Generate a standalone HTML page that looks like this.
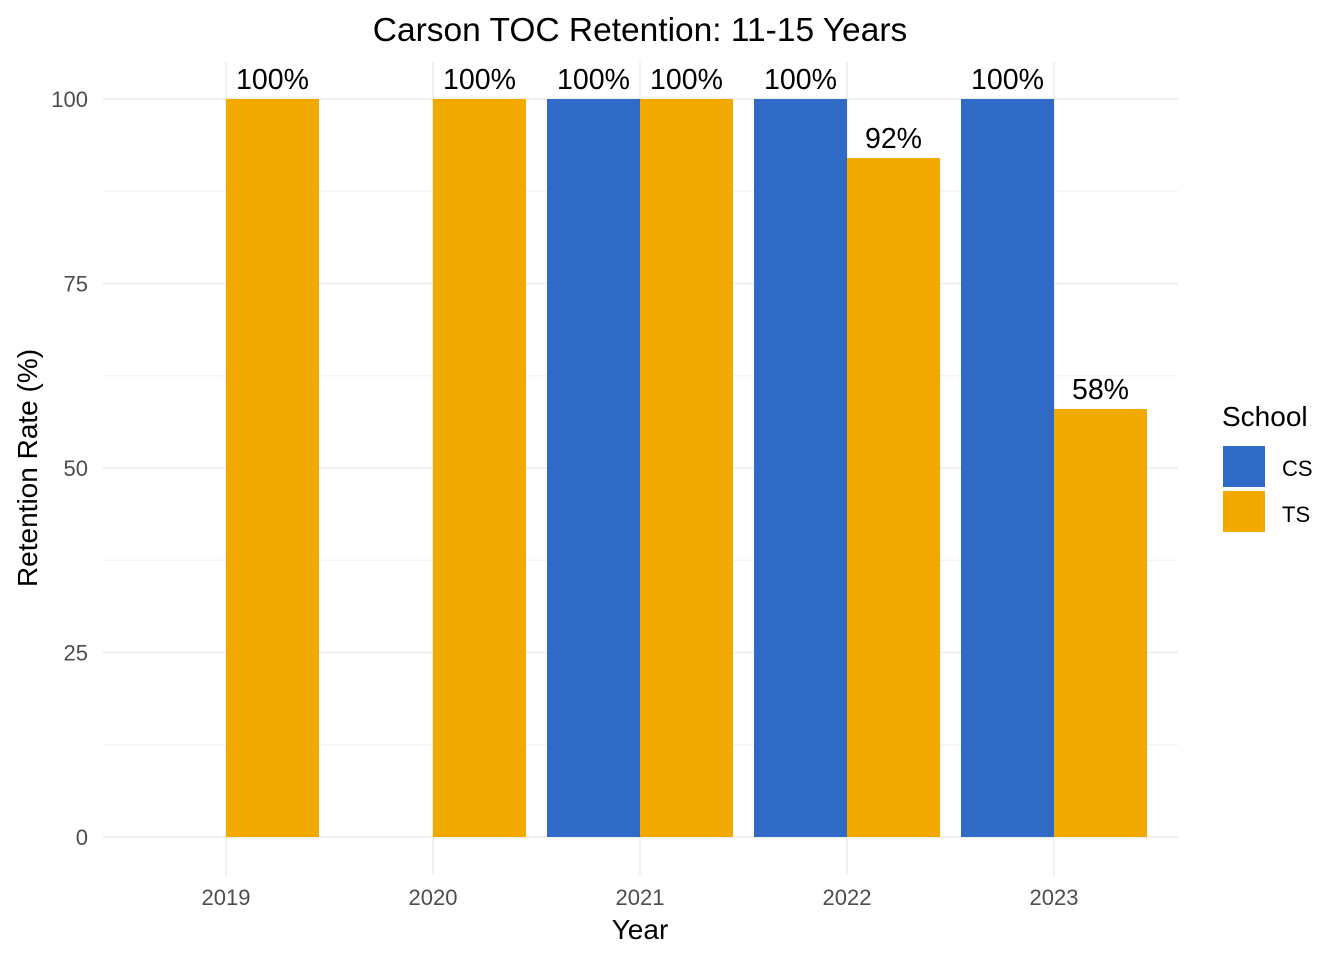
<!DOCTYPE html>
<html><head><meta charset="utf-8"><style>
html,body{margin:0;padding:0;background:#fff;}
svg{display:block;font-family:"Liberation Sans",Arial,sans-serif;}
</style></head><body>
<svg id="chart" width="1344" height="960" viewBox="0 0 1344 960">
<g id="grid"></g>
<g id="bars"></g>
<g id="labels"></g>
<g id="axes"></g>
<text x="640" y="41" text-anchor="middle" font-size="33.5" fill="#000">Carson TOC Retention: 11-15 Years</text>
<text x="640" y="939" text-anchor="middle" font-size="28" fill="#000">Year</text>
<text transform="translate(37,468) rotate(-90)" text-anchor="middle" font-size="28" fill="#000">Retention Rate (%)</text>
<g>
<text x="1222" y="426" font-size="28" fill="#000">School</text>
<rect x="1223" y="446" width="42" height="41" fill="#2E6AC6"/>
<text x="1282" y="476" font-size="22" fill="#000">CS</text>
<rect x="1223" y="491" width="42" height="41" fill="#F2AA00"/>
<text x="1282" y="522" font-size="22" fill="#000">TS</text>
</g>
</svg>
<script>
const years = ["2019","2020","2021","2022","2023"];
const csValues = [null, null, 100, 100, 100];
const tsValues = [100, 100, 100, 92, 58];
const yTicks = [0, 25, 50, 75, 100];

const NS = "http://www.w3.org/2000/svg";
const plotL = 103, plotR = 1178, plotT = 62, plotB = 875;
const x0 = 226, step = 207, barW = 93;
function xScale(i){ return x0 + i*step; }
function yScale(v){ return 837 - v*7.38; }
function mk(tag, attrs, parent){ const e=document.createElementNS(NS,tag); for(const k in attrs) e.setAttribute(k,attrs[k]); parent.appendChild(e); return e; }

const grid=document.getElementById('grid'), bars=document.getElementById('bars'), labels=document.getElementById('labels'), axes=document.getElementById('axes');
for(let i=0;i<yTicks.length-1;i++){
  const y=yScale((yTicks[i]+yTicks[i+1])/2);
  const l=mk('line',{x1:plotL,x2:plotR,y1:y,y2:y,stroke:'#F0F0F0','stroke-width':1},grid);
  
  
}
yTicks.forEach(t=>{
  const y=yScale(t);
  const l=mk('line',{x1:plotL,x2:plotR,y1:y,y2:y,stroke:'#EBEBEB','stroke-width':1.5},grid);
  
  
  const tx=mk('text',{x:88,y:y+8,'text-anchor':'end','font-size':22,fill:'#4D4D4D'},axes);
  tx.textContent=t;
  
  
});
years.forEach((yr,i)=>{
  const cx=xScale(i);
  const l=mk('line',{x1:cx,x2:cx,y1:plotT,y2:plotB,stroke:'#EBEBEB','stroke-width':1.5},grid);
  
  
  const tx=mk('text',{x:cx,y:905,'text-anchor':'middle','font-size':22,fill:'#4D4D4D'},axes);
  tx.textContent=yr;
  
  
  [[csValues[i],-1,'#2E6AC6','cs'],[tsValues[i],0,'#F2AA00','ts']].forEach(([v,off,c,s])=>{
    if(v==null) return;
    const bx=cx+off*barW;
    const r=mk('rect',{x:bx,y:yScale(v),width:barW,height:yScale(0)-yScale(v),fill:c},bars);
    
    
    const t=mk('text',{x:bx+barW/2,y:yScale(v)-10,'text-anchor':'middle','font-size':28.5,fill:'#000'},labels);
    t.textContent=v+'%';
    
    
  });
});
</script>
</body></html>
